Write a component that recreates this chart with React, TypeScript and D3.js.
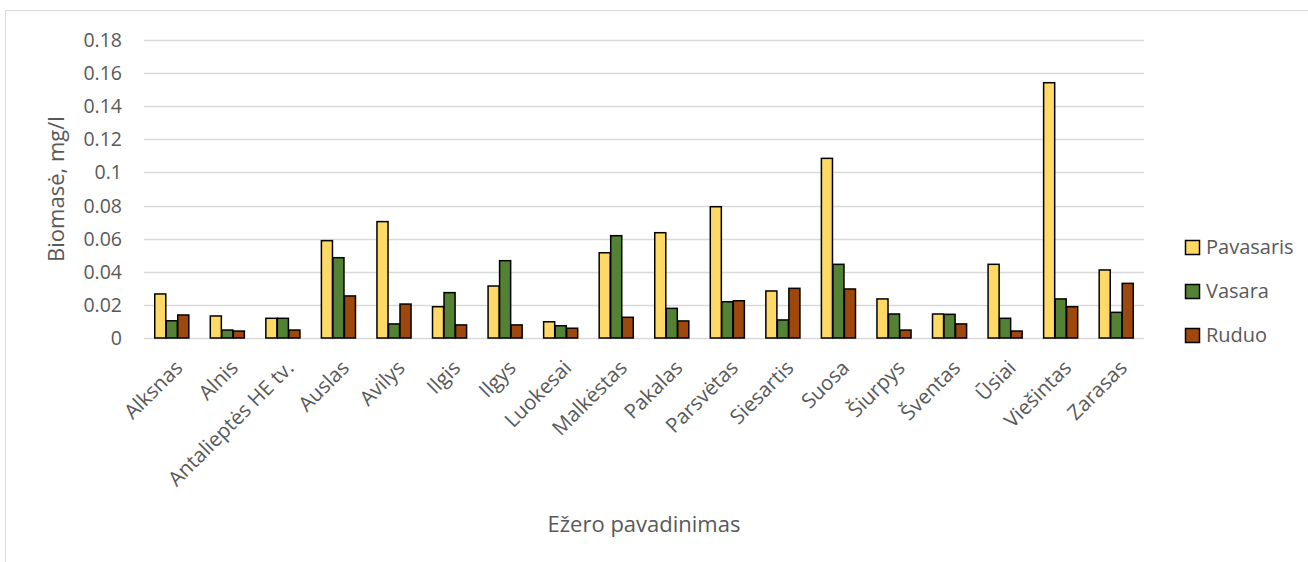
import React, { useEffect, useRef } from 'react';
import * as d3 from 'd3';

const lakes = [
  'Alksnas', 'Alnis', 'Antalieptės HE tv.', 'Auslas', 'Avilys', 'Ilgis', 'Ilgys', 'Luokesai', 'Malkėstas',
  'Pakalas', 'Parsvėtas', 'Siesartis', 'Suosa', 'Šiurpys', 'Šventas', 'Ūsiai', 'Viešintas', 'Zarasas',
];
const seriesNames = ['Pavasaris', 'Vasara', 'Ruduo'];
const pavasaris = [0.0266, 0.0133, 0.0119, 0.0588, 0.0703, 0.0189, 0.0314, 0.0098, 0.0515, 0.0636, 0.0793, 0.0284, 0.1085, 0.0236, 0.0145, 0.0445, 0.1542, 0.0411];
const vasara = [0.0104, 0.0048, 0.0119, 0.0485, 0.0085, 0.0274, 0.0467, 0.0074, 0.0618, 0.0179, 0.0219, 0.0109, 0.0445, 0.0145, 0.0143, 0.0119, 0.0236, 0.0155];
const ruduo = [0.0139, 0.0042, 0.0048, 0.0254, 0.0205, 0.0079, 0.0079, 0.0059, 0.0125, 0.0103, 0.0225, 0.0300, 0.0296, 0.0048, 0.0085, 0.0042, 0.0189, 0.0330];
const yTicks = [0, 0.02, 0.04, 0.06, 0.08, 0.1, 0.12, 0.14, 0.16, 0.18];
const colors = ['#FFD966', '#548235', '#9E480E'];

const App = () => {
  const svgRef = useRef(null);

  useEffect(() => {
    const W = 1308;
    const H = 562;
    const margin = { top: 40, left: 144, right: 164, bottom: 224 }; // plot area 144..1144, 40..338
    const width = W - margin.left - margin.right;
    const height = H - margin.top - margin.bottom;
    const font = "'Open Sans', 'Noto Sans', sans-serif";

    const svg = d3.select(svgRef.current);
    svg.selectAll('*').remove();
    svg.attr('width', W).attr('height', H);

    // chart frame (runs off the right and bottom edge)
    svg.append('rect')
      .attr('x', 5.5).attr('y', 10.5)
      .attr('width', W + 10).attr('height', H + 10)
      .attr('fill', 'white')
      .attr('stroke', '#d9d9d9');

    const g = svg.append('g').attr('transform', `translate(${margin.left},${margin.top})`);

    const xScale = d3.scaleBand().domain(lakes).range([0, width]).paddingInner(0.37).paddingOuter(0.185);
    const xInner = d3.scaleBand().domain(seriesNames).range([0, xScale.bandwidth()]).padding(0.04);
    const yScale = d3.scaleLinear().domain([0, 0.18]).range([height, 0]);

    // gridlines
    g.selectAll('.grid')
      .data(yTicks)
      .enter()
      .append('line')
      .attr('x1', 0).attr('x2', width)
      .attr('y1', d => Math.round(yScale(d)) + 0.5)
      .attr('y2', d => Math.round(yScale(d)) + 0.5)
      .attr('stroke', '#d9d9d9')
      .attr('stroke-width', 1.5);

    // y tick labels
    g.selectAll('.ytick')
      .data(yTicks)
      .enter()
      .append('text')
      .attr('x', -22)
      .attr('y', d => yScale(d))
      .attr('dy', '0.36em')
      .attr('text-anchor', 'end')
      .style('font-family', font)
      .style('font-size', '19.5px')
      .style('fill', '#595959')
      .text(d => String(d));

    // bars
    const data = [pavasaris, vasara, ruduo];
    data.forEach((values, si) => {
      g.selectAll(`.bar-${si}`)
        .data(values)
        .enter()
        .append('rect')
        .attr('x', (d, i) => xScale(lakes[i]) + xInner(seriesNames[si]))
        .attr('y', d => yScale(d))
        .attr('width', xInner.bandwidth())
        .attr('height', d => height - yScale(d))
        .attr('fill', colors[si])
        .attr('stroke', '#000')
        .attr('stroke-width', 1.5);
    });

    // x labels, rotated
    g.selectAll('.xlabel')
      .data(lakes)
      .enter()
      .append('text')
      .attr('transform', d => `translate(${xScale(d) + xScale.bandwidth() / 2 + 7},${height + 26}) rotate(-45)`)
      .attr('text-anchor', 'end')
      .attr('dy', '0.35em')
      .style('font-family', font)
      .style('font-size', '20.5px')
      .style('fill', '#595959')
      .text(d => d);

    // axis titles
    svg.append('text')
      .attr('transform', `translate(64,189) rotate(-90)`)
      .attr('text-anchor', 'middle')
      .style('font-family', font)
      .style('font-size', '22px')
      .style('fill', '#595959')
      .text('Biomasė, mg/l');

    svg.append('text')
      .attr('x', margin.left + width / 2)
      .attr('y', 532)
      .attr('text-anchor', 'middle')
      .style('font-family', font)
      .style('font-size', '22px')
      .style('fill', '#595959')
      .text('Ežero pavadinimas');

    // legend
    const legend = svg.append('g').attr('transform', 'translate(1185,247)');
    seriesNames.forEach((name, i) => {
      const row = legend.append('g').attr('transform', `translate(0,${i * 44})`);
      row.append('rect')
        .attr('x', 0.5).attr('y', -6.5)
        .attr('width', 14).attr('height', 14)
        .attr('fill', colors[i])
        .attr('stroke', '#000')
        .attr('stroke-width', 1.5);
      row.append('text')
        .attr('x', 21)
        .attr('y', 0)
        .attr('dy', '0.36em')
        .style('font-family', font)
        .style('font-size', '20px')
        .style('fill', '#595959')
        .text(name);
    });
  }, []);

  return (
    <svg ref={svgRef} style={{ position: 'absolute', left: 0, top: 0 }}></svg>
  );
};

export default App;
